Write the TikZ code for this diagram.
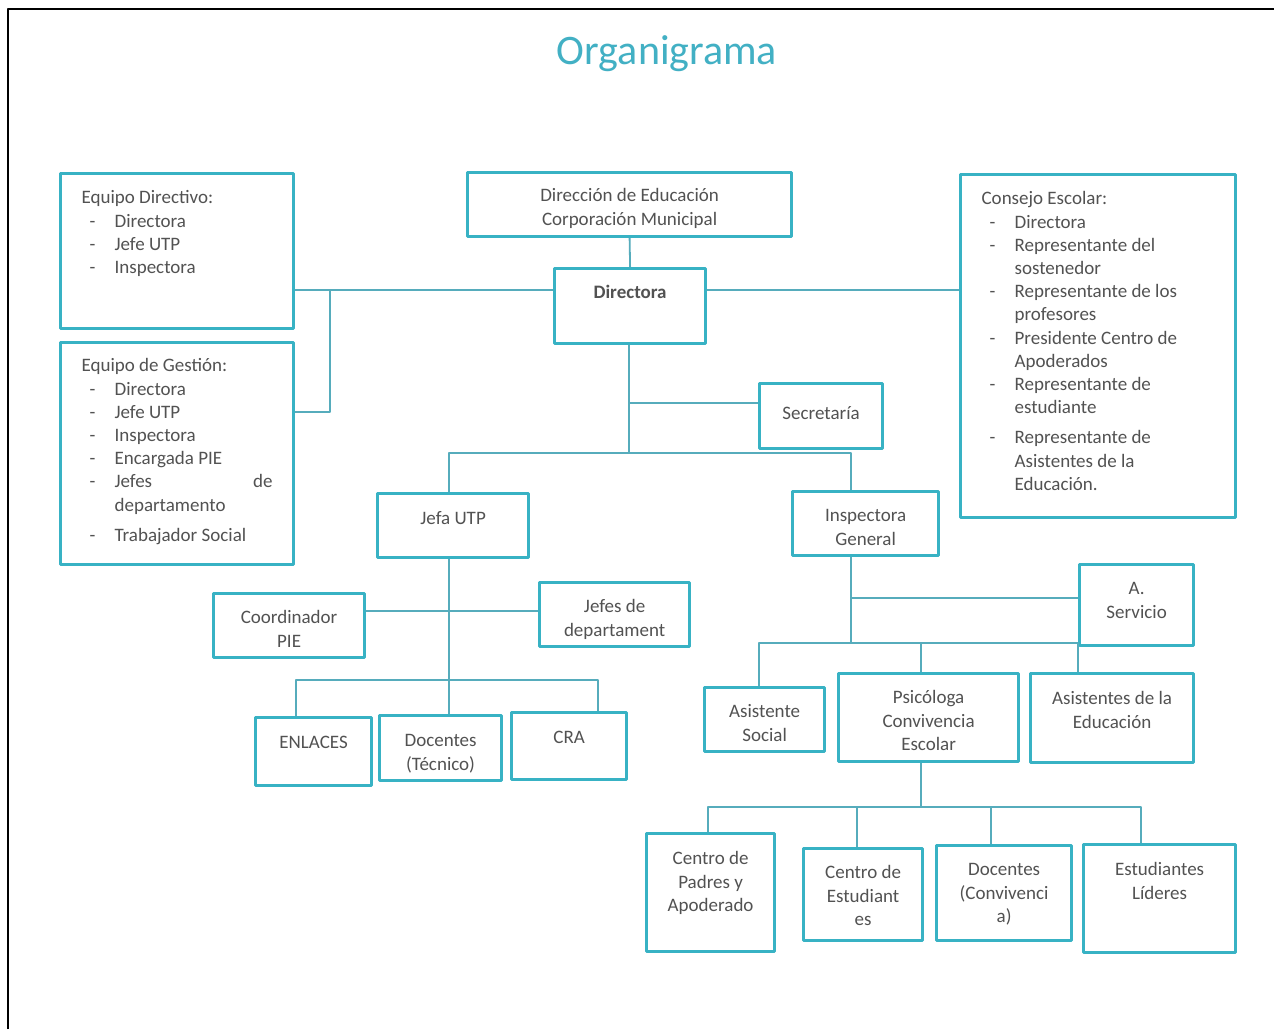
\documentclass[tikz,border=0pt]{standalone}
\usepackage{fontspec}
\setmainfont{Carlito}
\usepackage{tikz}
\usetikzlibrary{calc}
\definecolor{boxc}{RGB}{56,178,196}
\definecolor{linec}{RGB}{86,172,188}
\definecolor{txtc}{RGB}{82,82,82}
\definecolor{titlec}{RGB}{66,176,196}
% box text: width, height, top gap, text
\newcommand{\bt}[4]{\parbox[c][#2pt][t]{#1pt}{\centering\vspace*{#3pt}\strut #4\par}}
\newcommand{\bl}[4]{\parbox[c][#2pt][t]{#1pt}{\raggedright\leftskip=21pt\vspace*{#3pt}\strut #4\par}}
\newcommand{\itm}[1]{\makebox[33pt][l]{\hspace{8pt}-}#1}
\newcommand{\cnt}[1]{\hspace*{33pt}#1}
\tikzset{
  box/.style={draw=boxc, line width=3.2pt, inner sep=0pt, anchor=north west,
    text=txtc, font=\fontsize{19pt}{23.2pt}\selectfont},
  ln/.style={draw=linec, line width=1.8pt},
  title/.style={text=titlec, font=\fontsize{42pt}{48pt}\selectfont}
}
\begin{document}
\begin{tikzpicture}[x=1pt,y=-1pt,join=round] % organigrama
        \useasboundingbox (0,0) rectangle (1274,1029);
        \fill[white] (0,0) rectangle (1274,1029);
        \draw[black,line width=2pt] (8,1029)--(8,9)--(1274,9);
        \node[title] (ttl) at (667,54) {Organigrama};
        % top level
        \node[box] (dired) at (466,171) {\bt{324}{64}{13}{Dirección de Educación\\Corporación Municipal}};
        \node[box] (directora) at (553,267) {\bt{151}{75}{14}{\textbf{Directora}}};
        \node[box] (secre) at (758,382) {\bt{123}{65}{20}{Secretaría}};
        \node[box] (eqdir) at (59,172) {\bl{233}{155}{14}{Equipo Directivo:\\
                \itm{Directora}\\ \itm{Jefe UTP}\\ \itm{Inspectora}}};
        \node[box] (eqges) at (59,341) {\bl{233}{222}{13}{Equipo de Gestión:\\
                \itm{Directora}\\ \itm{Jefe UTP}\\ \itm{Inspectora}\\ \itm{Encargada PIE}\\
                \itm{\makebox[158pt][s]{Jefes de}}\\ \cnt{departamento}\\[7pt]
                \itm{Trabajador Social}}};
        \node[box] (consejo) at (959,173) {\bl{275}{343}{14}{Consejo Escolar:\\
                \itm{Directora}\\ \itm{Representante del}\\ \cnt{sostenedor}\\
                \itm{Representante de los}\\ \cnt{profesores}\\
                \itm{Presidente Centro de}\\ \cnt{Apoderados}\\
                \itm{Representante de}\\ \cnt{estudiante}\\[7pt]
                \itm{Representante de}\\ \cnt{Asistentes de la}\\ \cnt{Educación.}}};
        % second level
        \node[box] (jefautp) at (376,492) {\bt{151}{64}{15}{Jefa UTP}};
        \node[box] (inspg) at (791,490) {\bt{146}{64}{14}{Inspectora\\General}};
        \node[box] (coord) at (212,592) {\bt{151}{64}{14}{Coordinador\\PIE}};
        \node[box] (jefdep) at (538,581) {\bt{150}{64}{14}{Jefes de\\departament}};
        \node[box] (enlaces) at (254,716) {\bt{116}{68}{15}{ENLACES}};
        \node[box] (doctec) at (378,714) {\bt{122}{65}{15}{Docentes\\(Técnico)}};
        \node[box] (cra) at (510,711) {\bt{115}{67}{15}{CRA}};
        \node[box] (aserv) at (1078,563) {\bt{114}{81}{14}{A.\\Servicio}};
        \node[box] (asoc) at (703,686) {\bt{120}{64}{14}{Asistente\\Social}};
        \node[box] (psico) at (837,672) {\bt{180}{88}{14}{Psicóloga\\Convivencia\\Escolar}};
        \node[box] (asised) at (1029,672) {\bt{163}{89}{15}{Asistentes de la\\Educación}};
        \node[box] (cpadres) at (645,832) {\bt{128}{118}{15}{Centro de\\Padres y\\Apoderado}};
        \node[box] (cestud) at (802,847) {\bt{119}{92}{14}{Centro de\\Estudiant\\es}};
        \node[box] (docconv) at (935,844) {\bt{135}{95}{14}{Docentes\\(Convivenci\\a)}};
        \node[box] (estlid) at (1082,843) {\bt{152}{108}{15}{Estudiantes\\Líderes}};
        % junctions
        \coordinate (jl) at (330,290);
        \coordinate (jg) at (330,412);
        \coordinate (sj) at (629,403);
        \coordinate (ds) at (629,453);
        \coordinate (bl) at (449,453);
        \coordinate (br) at (851,453);
        \coordinate (ju) at (449,611);
        \coordinate (e1) at (296,680);
        \coordinate (e2) at (598,680);
        \coordinate (ia) at (851,598);
        \coordinate (ib) at (851,643);
        \coordinate (i1) at (759,643);
        \coordinate (i2) at (921,643);
        \coordinate (i3) at (1078,643);
        \coordinate (p0) at (921,807);
        \coordinate (p1) at (708,807);
        \coordinate (p2) at (857,807);
        \coordinate (p3) at (991,807);
        \coordinate (p4) at (1141,807);
        % connectors
        \draw[ln] (dired.south)--(directora.north);
        \draw[ln] (directora.west |- jl)--(eqdir.east |- jl);
        \draw[ln] (jl)--(jg)--(eqges.east |- jg);
        \draw[ln] (directora.east |- jl)--(consejo.west |- jl);
        \draw[ln] (ds |- directora.south)--(ds);
        \draw[ln] (sj)--(secre.west |- sj);
        \draw[ln] (bl |- jefautp.north)--(bl)--(br)--(br |- inspg.north);
        \draw[ln] (bl |- jefautp.south)--(bl |- doctec.north);
        \draw[ln] (coord.east |- ju)--(jefdep.west |- ju);
        \draw[ln] (e1 |- enlaces.north)--(e1)--(e2)--(e2 |- cra.north);
        \draw[ln] (br |- inspg.south)--(ib);
        \draw[ln] (ia)--(aserv.west |- ia);
        \draw[ln] (i1 |- asoc.north)--(i1)--(i3)--(i3 |- asised.north);
        \draw[ln] (i2)--(i2 |- psico.north);
        \draw[ln] (i2 |- psico.south)--(p0);
        \draw[ln] (p1 |- cpadres.north)--(p1)--(p4)--(p4 |- estlid.north);
        \draw[ln] (p2)--(p2 |- cestud.north);
        \draw[ln] (p3)--(p3 |- docconv.north);
\end{tikzpicture}
\end{document}
